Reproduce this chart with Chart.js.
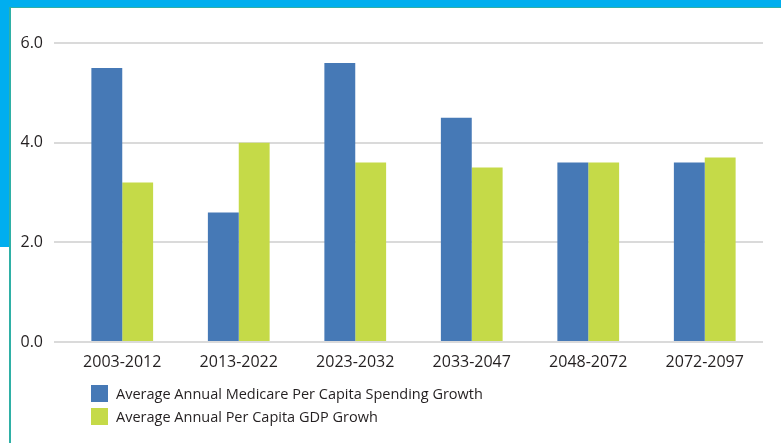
<!DOCTYPE html>
<html>
<head>
<meta charset="utf-8">
<script src="https://cdn.jsdelivr.net/npm/chart.js@4"></script>
<style>
  html, body { margin: 0; padding: 0; background: #fff; }
  #wrap { position: relative; width: 781px; height: 443px; overflow: hidden; font-family: "Open Sans", sans-serif; }
  #myChart { position: absolute; left: 0; top: 0; }
  .band { position: absolute; background: #00aeef; }
  .edge { position: absolute; background: #2fb0a6; }
  #legend { position: absolute; left: 91px; top: 385px; color: #231f20; font-size: 14.5px; }
  .item { display: flex; align-items: center; height: 17px; margin-bottom: 6px; }
  .box { width: 17px; height: 17px; margin-right: 8px; }
</style>
</head>
<body>
<div id="wrap">
  <canvas id="myChart" width="781" height="443"></canvas>
  <div class="band" style="left:0;top:0;width:781px;height:7px"></div>
  <div class="edge" style="left:0;top:7px;width:781px;height:1px"></div>
  <div class="band" style="left:0;top:0;width:9px;height:247px"></div>
  <div class="edge" style="left:9px;top:7px;width:2px;height:436px"></div>
  <div id="legend"></div>
</div>
<script>
// data
const periods = ["2003-2012", "2013-2022", "2023-2032", "2033-2047", "2048-2072", "2072-2097"];
const medicareGrowth = [5.5, 2.6, 5.6, 4.5, 3.6, 3.6];
const gdpGrowth = [3.2, 4.0, 3.6, 3.5, 3.6, 3.7];
const seriesNames = ["Average Annual Medicare Per Capita Spending Growth", "Average Annual Per Capita GDP Growh"];
const seriesColors = ["#4679b6", "#c5da48"];

const textColor = "#231f20";
const gridColor = "#dadada";

const ctx = document.getElementById('myChart');
const myChart = new Chart(ctx, {
    type: 'bar',
    data: {
        labels: periods,
        datasets: [{
            label: seriesNames[0],
            data: medicareGrowth,
            backgroundColor: seriesColors[0],
            borderWidth: 0,
        }, {
            label: seriesNames[1],
            data: gdpGrowth,
            backgroundColor: seriesColors[1],
            borderWidth: 0,
        }]
    },
    options: {
        responsive: false,
        animation: false,
        layout: {
            padding: { top: 43, right: 18, bottom: 0, left: 0 }
        },
        categoryPercentage: 0.53,
        barPercentage: 1.0,
        plugins: {
            legend: { display: false },
            tooltip: { enabled: false }
        },
        scales: {
            x: {
                grid: { display: false },
                border: { display: false },
                ticks: {
                    color: textColor,
                    font: { family: "Open Sans", size: 16 },
                    padding: 3,
                    maxRotation: 0
                },
                afterFit: (scale) => { scale.height = 101; }
            },
            y: {
                min: 0,
                max: 6,
                border: { display: false },
                grid: {
                    color: gridColor,
                    lineWidth: 2,
                    drawTicks: true,
                    tickLength: 10
                },
                ticks: {
                    stepSize: 2,
                    color: textColor,
                    font: { family: "Open Sans", size: 16 },
                    padding: 11,
                    callback: (v) => v.toFixed(1)
                },
                afterFit: (scale) => { scale.width = 64; }
            }
        }
    }
});

// legend stacked as in the picture
const legend = document.getElementById("legend");
seriesNames.forEach((name, i) => {
    const row = document.createElement("div");
    row.className = "item";
    const box = document.createElement("span");
    box.className = "box";
    box.style.background = seriesColors[i];
    const txt = document.createElement("span");
    txt.textContent = name;
    row.append(box, txt);
    legend.append(row);
});
</script>
</body>
</html>
